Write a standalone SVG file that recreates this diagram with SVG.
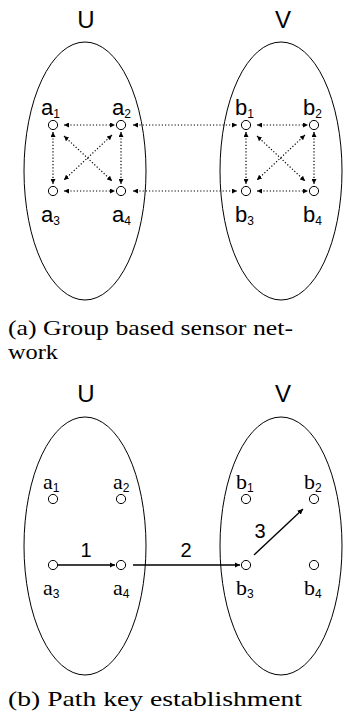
<svg xmlns="http://www.w3.org/2000/svg" width="344" height="722" viewBox="0 0 344 722">
  <defs>
    <marker id="ah" viewBox="0 0 10 10" refX="10" refY="5" markerWidth="5" markerHeight="5" orient="auto-start-reverse" markerUnits="userSpaceOnUse">
      <path d="M0,0 L10,5 L0,10 z" fill="#000"/>
    </marker>
    <marker id="as" viewBox="0 0 10 10" refX="10" refY="5" markerWidth="5.5" markerHeight="5.5" orient="auto" markerUnits="userSpaceOnUse">
      <path d="M0,0 L10,5 L0,10 z" fill="#000"/>
    </marker>
  </defs>
  <style>
    .grp { fill: none; stroke: #000; stroke-width: 1; }
    .node { fill: #fff; stroke: #000; stroke-width: 1; }
    .sans { font-family: "Liberation Sans", Arial, sans-serif; fill: #000; }
    .serif { font-family: "Liberation Serif", "Times New Roman", serif; fill: #000; }
    .big { font-size: 24px; }
    .lab { font-size: 22px; }
    .sub { font-size: 12px; }
    .num { font-size: 20px; }
    .cap { font-size: 22px; }
    .dot { fill: none; stroke: #000; stroke-width: 1.2; stroke-dasharray: 1.2 2; marker-start: url(#ah); marker-end: url(#ah); }
    .sol { fill: none; stroke: #000; stroke-width: 1.3; marker-end: url(#as); }
  </style>
  <rect width="344" height="722" fill="#fff"/>

  <!-- Panel (a) -->
  <g id="groupU-a">
    <ellipse class="grp" cx="85" cy="171" rx="61" ry="129"/>
    <text class="sans big" x="86" y="28" text-anchor="middle">U</text>
  </g>
  <g id="groupV-a">
    <ellipse class="grp" cx="281" cy="171" rx="61" ry="129"/>
    <text class="sans big" x="283" y="28" text-anchor="middle">V</text>
  </g>

  <g id="connectors-a">
    <line class="dot" x1="64" y1="125" x2="115" y2="125"/>
    <line class="dot" x1="64" y1="191" x2="115" y2="191"/>
    <line class="dot" x1="53" y1="132" x2="53" y2="184"/>
    <line class="dot" x1="121" y1="132" x2="121" y2="184"/>
    <line class="dot" x1="64" y1="136" x2="112" y2="181"/>
    <line class="dot" x1="112" y1="135" x2="64" y2="180"/>
    <line class="dot" x1="133" y1="125" x2="237" y2="125"/>
    <line class="dot" x1="133" y1="191" x2="237" y2="191"/>
    <line class="dot" x1="257" y1="125" x2="308" y2="125"/>
    <line class="dot" x1="257" y1="191" x2="308" y2="191"/>
    <line class="dot" x1="246" y1="132" x2="246" y2="184"/>
    <line class="dot" x1="314" y1="132" x2="314" y2="184"/>
    <line class="dot" x1="257" y1="136" x2="305" y2="181"/>
    <line class="dot" x1="305" y1="135" x2="257" y2="180"/>
  </g>

  <g id="a1"><circle class="node" cx="53" cy="125" r="4.6"/><text class="sans lab" x="41" y="115">a<tspan class="sub" dy="3">1</tspan></text></g>
  <g id="a2"><circle class="node" cx="121" cy="125" r="4.6"/><text class="sans lab" x="112" y="115">a<tspan class="sub" dy="3">2</tspan></text></g>
  <g id="a3"><circle class="node" cx="53" cy="191" r="4.6"/><text class="sans lab" x="41" y="222">a<tspan class="sub" dy="3">3</tspan></text></g>
  <g id="a4"><circle class="node" cx="121" cy="191" r="4.6"/><text class="sans lab" x="112" y="222">a<tspan class="sub" dy="3">4</tspan></text></g>
  <g id="b1"><circle class="node" cx="246" cy="125" r="4.6"/><text class="sans lab" x="235" y="115">b<tspan class="sub" dy="3">1</tspan></text></g>
  <g id="b2"><circle class="node" cx="314" cy="125" r="4.6"/><text class="sans lab" x="303" y="115">b<tspan class="sub" dy="3">2</tspan></text></g>
  <g id="b3"><circle class="node" cx="246" cy="191" r="4.6"/><text class="sans lab" x="235" y="222">b<tspan class="sub" dy="3">3</tspan></text></g>
  <g id="b4"><circle class="node" cx="314" cy="191" r="4.6"/><text class="sans lab" x="303" y="222">b<tspan class="sub" dy="3">4</tspan></text></g>

  <g id="caption-a">
    <text class="serif cap" x="8" y="335" textLength="285" lengthAdjust="spacingAndGlyphs">(a) Group based sensor net-</text>
    <text class="serif cap" x="8" y="359" textLength="50" lengthAdjust="spacingAndGlyphs">work</text>
  </g>

  <!-- Panel (b) -->
  <g id="groupU-b">
    <ellipse class="grp" cx="85" cy="546" rx="61" ry="129"/>
    <text class="sans big" x="86" y="402" text-anchor="middle">U</text>
  </g>
  <g id="groupV-b">
    <ellipse class="grp" cx="281" cy="546" rx="61" ry="129"/>
    <text class="sans big" x="283" y="402" text-anchor="middle">V</text>
  </g>

  <g id="connectors-b">
    <line class="sol" x1="58" y1="565" x2="115" y2="565"/>
    <line class="sol" x1="133" y1="565" x2="240" y2="565"/>
    <line class="sol" x1="254" y1="555" x2="303" y2="509"/>
    <text class="sans num" x="86" y="557" text-anchor="middle">1</text>
    <text class="sans num" x="186" y="557" text-anchor="middle">2</text>
    <text class="sans num" x="260" y="538" text-anchor="middle">3</text>
  </g>

  <g id="a1b"><circle class="node" cx="53" cy="499" r="4.6"/><text class="serif lab" x="43" y="489">a<tspan class="sans sub" dy="3">1</tspan></text></g>
  <g id="a2b"><circle class="node" cx="121" cy="499" r="4.6"/><text class="serif lab" x="113" y="489">a<tspan class="sans sub" dy="3">2</tspan></text></g>
  <g id="a3b"><circle class="node" cx="53" cy="565" r="4.6"/><text class="serif lab" x="43" y="595">a<tspan class="sans sub" dy="3">3</tspan></text></g>
  <g id="a4b"><circle class="node" cx="121" cy="565" r="4.6"/><text class="serif lab" x="113" y="595">a<tspan class="sans sub" dy="3">4</tspan></text></g>
  <g id="b1b"><circle class="node" cx="246" cy="499" r="4.6"/><text class="serif lab" x="236" y="489">b<tspan class="sans sub" dy="3">1</tspan></text></g>
  <g id="b2b"><circle class="node" cx="314" cy="499" r="4.6"/><text class="serif lab" x="304" y="489">b<tspan class="sans sub" dy="3">2</tspan></text></g>
  <g id="b3b"><circle class="node" cx="246" cy="565" r="4.6"/><text class="serif lab" x="236" y="595">b<tspan class="sans sub" dy="3">3</tspan></text></g>
  <g id="b4b"><circle class="node" cx="314" cy="565" r="4.6"/><text class="serif lab" x="304" y="595">b<tspan class="sans sub" dy="3">4</tspan></text></g>

  <g id="caption-b">
    <text class="serif cap" x="8" y="706" textLength="294" lengthAdjust="spacingAndGlyphs">(b) Path key establishment</text>
  </g>
</svg>
